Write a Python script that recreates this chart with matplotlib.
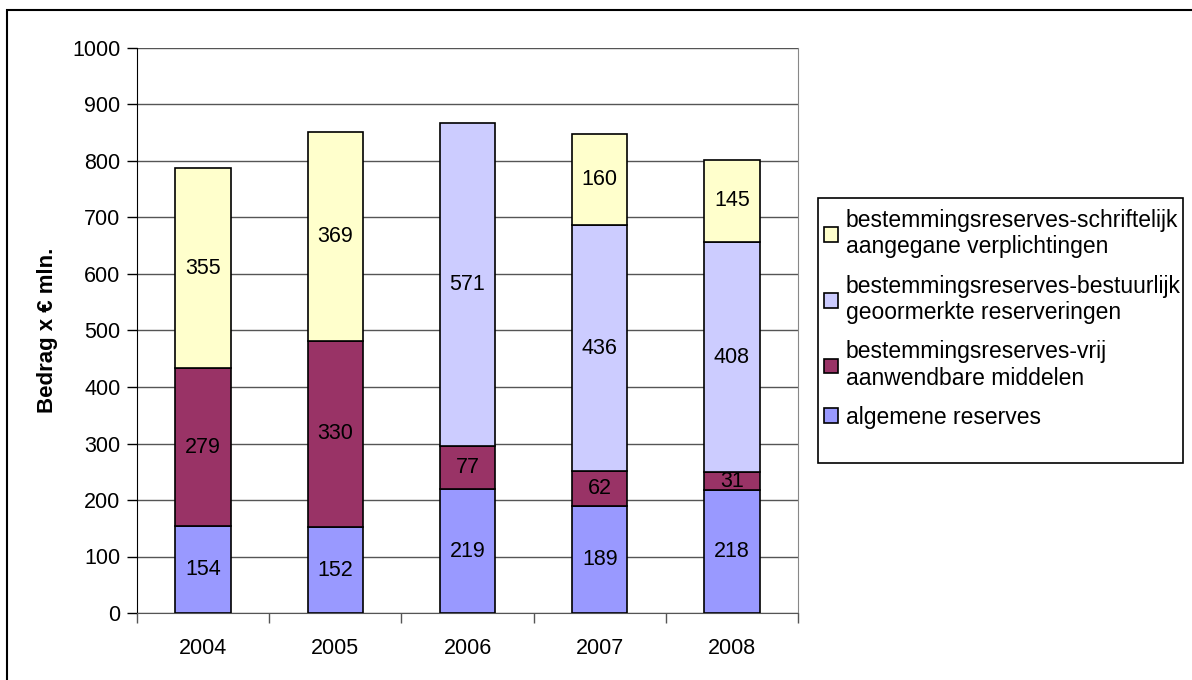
import matplotlib
matplotlib.use("Agg")
import matplotlib.pyplot as plt
from matplotlib.patches import Rectangle
import numpy as np

plt.rcParams['font.family'] = ['Liberation Sans', 'DejaVu Sans']

years = ["2004", "2005", "2006", "2007", "2008"]
algemene = [154, 152, 219, 189, 218]
vrij = [279, 330, 77, 62, 31]
bestuurlijk = [0, 0, 571, 436, 408]
schriftelijk = [355, 369, 0, 160, 145]

series = [
    ("algemene reserves", algemene, "#9999FF"),
    ("bestemmingsreserves-vrij\naanwendbare middelen", vrij, "#993366"),
    ("bestemmingsreserves-bestuurlijk\ngeoormerkte reserveringen", bestuurlijk, "#CCCCFF"),
    ("bestemmingsreserves-schriftelijk\naangegane verplichtingen", schriftelijk, "#FFFFCC"),
]

W, H = 1192, 680
FS = 15.5
fig = plt.figure(figsize=(W / 100, H / 100), dpi=100)
fig.patches.append(Rectangle((7 / W, -0.05), 1.1, (H - 10) / H + 0.05, transform=fig.transFigure,
                             fill=False, edgecolor="black", linewidth=1.5))

ax = fig.add_axes([137 / W, (H - 613) / H, (798 - 137) / W, (613 - 48) / H])
x = np.arange(len(years))
bottom = np.zeros(len(years))
handles = []
for label, vals, color in series:
    vals = np.array(vals, dtype=float)
    mask = vals > 0
    b = ax.bar(x[mask], vals[mask], 0.42, bottom=bottom[mask], color=color,
               edgecolor="black", linewidth=1.2, label=label, zorder=3)
    handles.append(b)
    for xi, v, bt in zip(x[mask], vals[mask], bottom[mask]):
        ax.text(xi, bt + v / 2, f"{int(v)}", ha="center", va="center", fontsize=FS, zorder=4)
    bottom += vals

ax.set_xlim(-0.5, len(years) - 0.5)
ax.set_ylim(0, 1000)
ax.set_yticks(np.arange(0, 1001, 100))
ax.yaxis.grid(True, color="#555555", linewidth=1.0, zorder=0)
ax.set_xticks(x)
ax.set_xticklabels(years)
ax.set_xticks(np.arange(-0.5, len(years), 1), minor=True)
ax.tick_params(axis="x", which="major", length=0, pad=18, labelsize=FS)
ax.tick_params(axis="x", which="minor", length=7, color="#555555", width=1)
ax.tick_params(axis="y", length=7, width=1, labelsize=FS, pad=5)
ax.spines["top"].set_visible(False)
ax.spines["right"].set_color("#888888")
ax.spines["bottom"].set_color("#555555")
ax.spines["left"].set_color("black")
ax.set_ylabel("Bedrag x € mln.", fontsize=16, fontweight="bold", labelpad=10)

fig.patches.append(Rectangle((818 / W, (H - 463) / H), (1183 - 818) / W, (463 - 198) / H,
                             transform=fig.transFigure, fill=False, edgecolor="black", linewidth=1.2))
leg = fig.legend(handles[::-1], [s[0] for s in series][::-1], loc="upper left",
                 bbox_to_anchor=(817 / W, (H - 202) / H), fontsize=16.5, frameon=False,
                 handlelength=0.6, handleheight=0.6, handletextpad=0.35, labelspacing=0.7,
                 borderpad=0.3, borderaxespad=0)
for t in leg.get_texts():
    t.set_linespacing(1.2)

fig.savefig("out.png", dpi=100)
